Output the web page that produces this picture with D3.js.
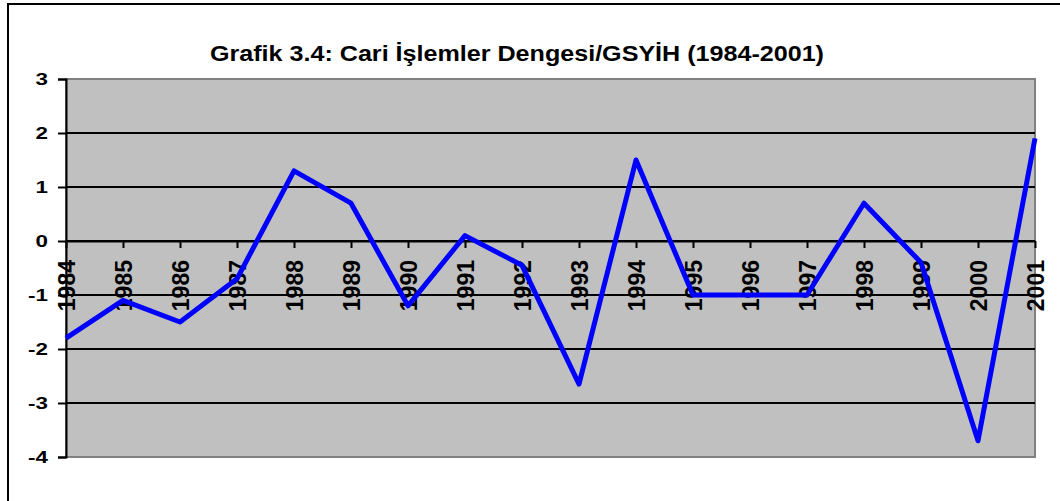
<!DOCTYPE html>
<html>
<head>
<meta charset="utf-8">
<script src="https://cdn.jsdelivr.net/npm/d3@7"></script>
<style>
  body { margin: 0; background: #fff; }
  svg { display: block; font-family: Arial, "Liberation Sans", sans-serif; font-weight: bold; }
</style>
</head>
<body>
<svg id="chart" width="1060" height="501"></svg>
<script>
// data
const years = [1984, 1985, 1986, 1987, 1988, 1989, 1990, 1991, 1992,
               1993, 1994, 1995, 1996, 1997, 1998, 1999, 2000, 2001];
const balance = [-1.8, -1.1, -1.5, -0.7, 1.3, 0.7, -1.2, 0.1, -0.45,
                 -2.65, 1.5, -1.0, -1.0, -1.0, 0.7, -0.4, -3.7, 1.9];
const yTicks = [-4, -3, -2, -1, 0, 1, 2, 3];
const title = "Grafik 3.4: Cari İşlemler Dengesi/GSYİH (1984-2001)";

// plot area bounds
let plotLeft = 66, plotRight = 1035, plotTop = 79, plotBottom = 457;

let svg = d3.select("#chart");

// outer frame
svg.append("rect")
    .attr("x", 8).attr("y", 4)
    .attr("width", 1070).attr("height", 520)
    .attr("fill", "#fff")
    .attr("stroke", "#000")
    .attr("stroke-width", 2);

let x = d3.scalePoint()
    .domain(years)
    .range([plotLeft, plotRight]);

let y = d3.scaleLinear()
    .domain([-4, 3])
    .range([plotBottom, plotTop]);

// plot area
svg.append("rect")
    .attr("x", plotLeft).attr("y", plotTop)
    .attr("width", plotRight - plotLeft).attr("height", plotBottom - plotTop)
    .attr("fill", "#c0c0c0")
    .attr("stroke", "#808080")
    .attr("stroke-width", 2);

// gridlines
svg.append("g")
  .selectAll("line")
  .data(yTicks.filter(d => d > -4 && d < 3))
  .join("line")
    .attr("x1", plotLeft).attr("x2", plotRight)
    .attr("y1", d => y(d)).attr("y2", d => y(d))
    .attr("stroke", "#000")
    .attr("stroke-width", 2);

// y axis (plain hyphen for the minus sign)
let yAxis = svg.append("g")
    .attr("transform", `translate(${plotLeft},0)`)
    .call(d3.axisLeft(y).tickValues(yTicks).tickSize(8).tickPadding(0).tickFormat(d => String(d)));
yAxis.select(".domain").attr("stroke", "#000").attr("stroke-width", 2);
yAxis.selectAll(".tick line").attr("stroke", "#000").attr("stroke-width", 2);
yAxis.selectAll(".tick text")
    .attr("x", null)
    .attr("transform", "translate(-18,0) scale(1.4,1)")
    .attr("dy", "0.36em")
    .attr("font-size", 16)
    .attr("font-family", "Arial, 'Liberation Sans', sans-serif")
    .attr("font-weight", "bold")
    .attr("fill", "#000");

// x axis on the zero line
let xAxis = svg.append("g")
    .attr("transform", `translate(0,${y(0)})`)
    .call(d3.axisBottom(x).tickSize(7).tickSizeOuter(0));
xAxis.select(".domain").attr("stroke", "#000").attr("stroke-width", 2);
xAxis.selectAll(".tick line").attr("stroke", "#000").attr("stroke-width", 2);
xAxis.selectAll(".tick text")
    .attr("y", null)
    .attr("text-anchor", "end")
    .attr("transform", "translate(0,19) rotate(-90)")
    .attr("dy", "0.36em")
    .attr("font-size", 23)
    .attr("font-family", "Arial, 'Liberation Sans', sans-serif")
    .attr("font-weight", "bold")
    .attr("fill", "#000");

// series line
let line = d3.line()
    .x((d, i) => x(years[i]))
    .y(d => y(d));

svg.append("path")
    .datum(balance)
    .attr("d", line)
    .attr("fill", "none")
    .attr("stroke", "#0000ff")
    .attr("stroke-width", 5)
    .attr("stroke-linejoin", "round");

// title
svg.append("text")
    .attr("x", 517)
    .attr("y", 61)
    .attr("text-anchor", "middle")
    .attr("font-size", 22)
    .attr("textLength", 614)
    .attr("lengthAdjust", "spacingAndGlyphs")
    .text(title);
</script>
</body>
</html>
